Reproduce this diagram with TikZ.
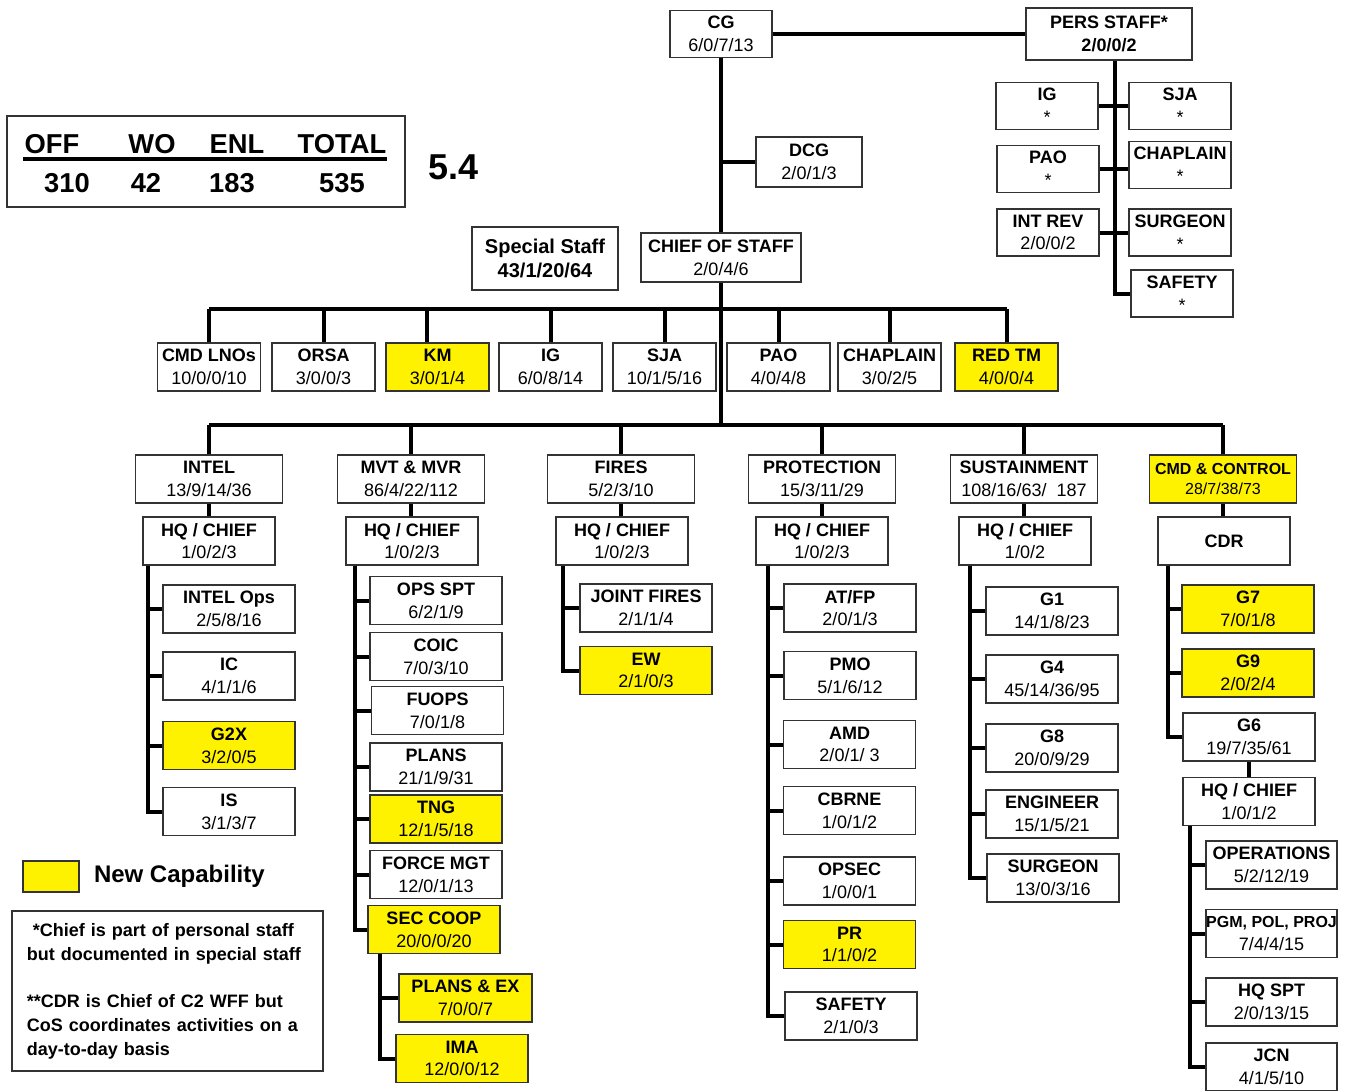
\documentclass[tikz,border=0pt]{standalone}
\usepackage{fontspec}
\setmainfont{Liberation Sans}
\usepackage{xcolor}
\usepackage{tikz}
\usetikzlibrary{positioning}

\newcommand{\orgtxt}[2]{\textbf{#1}\\#2}

\begin{document}
\begin{tikzpicture}[
  x=0.75pt, y=-0.75pt,
  unit/.style={rectangle, draw=black!80, line width=1.1pt, fill=white,
               minimum width=99pt, minimum height=36pt, align=center,
               inner sep=0pt, font=\fontsize{13.5}{17}\selectfont},
  newunit/.style={unit, fill=yellow},
  ssunit/.style={unit, minimum width=77pt},
  wfunit/.style={unit, minimum width=110pt},
  psunit/.style={unit, minimum width=76.5pt, minimum height=35.25pt},
  tallyhd/.style={font=\fontsize{20.5}{24}\selectfont\bfseries, inner sep=0pt, anchor=base},
  link/.style={line width=3pt}
]
\useasboundingbox (0,0) rectangle (1348,1090);

% personnel totals
\node[draw=black!80, line width=1.1pt, minimum width=298.5pt, minimum height=68.25pt, inner sep=0pt] (tally) at (206,161.5) {};
\node[tallyhd] (hoff) at (52,153) {OFF};
\node[tallyhd] (hwo) at (152,153) {WO};
\node[tallyhd] (henl) at (237,153) {ENL};
\node[tallyhd] (htot) at (342,153) {TOTAL};
\draw[line width=3pt] (23,159) -- (387,159);
\node[tallyhd] (noff) at (67,192) {310};
\node[tallyhd] (nwo) at (146,192) {42};
\node[tallyhd] (nenl) at (232,192) {183};
\node[tallyhd] (ntot) at (342,192) {535};
\node[right=17pt of tally, yshift=-4pt, inner sep=0pt, font=\fontsize{27}{30}\selectfont\bfseries] (ver) {5.4};

% command group
\node[unit, minimum width=76.5pt, minimum height=35.25pt] (cg) at (721,34) {\orgtxt{CG}{6/0/7/13}};
\node[unit, minimum width=124.5pt, minimum height=39pt, font=\fontsize{13.5}{17}\selectfont\bfseries] (pers) at (1109,34) {PERS STAFF*\\2/0/0/2};
\node[unit, minimum width=79.5pt, minimum height=37.5pt] (dcg) at (809,162) {\orgtxt{DCG}{2/0/1/3}};
\node[unit, minimum width=120pt, minimum height=36.75pt] (cos) at (721,257.5) {\orgtxt{CHIEF OF STAFF}{2/0/4/6}};
\node[unit, minimum width=109.5pt, minimum height=47.25pt, font=\fontsize{15}{18}\selectfont\bfseries] (spstaff) at (545,258.5) {Special Staff\\43/1/20/64};

% personal staff
\node[psunit] (pig) at (1047,106) {\orgtxt{IG}{*}};
\node[psunit] (psja) at (1180,106) {\orgtxt{SJA}{*}};
\node[psunit] (ppao) at (1048,169) {\orgtxt{PAO}{*}};
\node[psunit] (pchap) at (1180,165) {\orgtxt{CHAPLAIN}{*}};
\node[psunit] (pintrev) at (1048,232.5) {\orgtxt{INT REV}{2/0/0/2}};
\node[psunit] (psurg) at (1180,232.5) {\orgtxt{SURGEON}{*}};
\node[psunit] (pssafety) at (1182,293.5) {\orgtxt{SAFETY}{*}};

% special staff row
\node[ssunit] (cmdlno) at (209,367) {\orgtxt{CMD LNOs}{10/0/0/10}};
\node[ssunit] (orsa) at (323.5,367) {\orgtxt{ORSA}{3/0/0/3}};
\node[ssunit, fill=yellow] (km) at (437.5,367) {\orgtxt{KM}{3/0/1/4}};
\node[ssunit] (ssig) at (550.5,367) {\orgtxt{IG}{6/0/8/14}};
\node[ssunit] (sssja) at (664.5,367) {\orgtxt{SJA}{10/1/5/16}};
\node[ssunit] (sspao) at (778.5,367) {\orgtxt{PAO}{4/0/4/8}};
\node[ssunit] (sschap) at (889.5,367) {\orgtxt{CHAPLAIN}{3/0/2/5}};
\node[ssunit, fill=yellow] (redtm) at (1006.5,367) {\orgtxt{RED TM}{4/0/0/4}};

% warfighting functions
\node[wfunit] (intel) at (209,479) {\orgtxt{INTEL}{13/9/14/36}};
\node[wfunit] (mvt) at (411,479) {\orgtxt{MVT \& MVR}{86/4/22/112}};
\node[wfunit] (fires) at (621,479) {\orgtxt{FIRES}{5/2/3/10}};
\node[wfunit] (prot) at (822,479) {\orgtxt{PROTECTION}{15/3/11/29}};
\node[wfunit] (sust) at (1024,479) {\orgtxt{SUSTAINMENT}{108/16/63/\ \ 187}};
\node[wfunit, fill=yellow, font=\fontsize{12}{15.5}\selectfont] (cmdc) at (1223,479) {\orgtxt{CMD \& CONTROL}{28/7/38/73}};

\node[unit] (ihq) at (209,541) {\orgtxt{HQ / CHIEF}{1/0/2/3}};
\node[unit] (mhq) at (412,541) {\orgtxt{HQ / CHIEF}{1/0/2/3}};
\node[unit] (fhq) at (622,541) {\orgtxt{HQ / CHIEF}{1/0/2/3}};
\node[unit] (phq) at (822,541) {\orgtxt{HQ / CHIEF}{1/0/2/3}};
\node[unit] (shq) at (1025,541) {\orgtxt{HQ / CHIEF}{1/0/2}};
\node[unit, font=\fontsize{13.5}{17}\selectfont\bfseries] (cdr) at (1224,541) {CDR};

% intel
\node[unit] (iops) at (229,609) {\orgtxt{INTEL Ops}{2/5/8/16}};
\node[unit] (iic) at (229,676) {\orgtxt{IC}{4/1/1/6}};
\node[newunit] (igx) at (229,745.5) {\orgtxt{G2X}{3/2/0/5}};
\node[unit] (iis) at (229,811.5) {\orgtxt{IS}{3/1/3/7}};

% movement and maneuver
\node[unit] (mops) at (436,600.5) {\orgtxt{OPS SPT}{6/2/1/9}};
\node[unit] (mcoic) at (436,656.5) {\orgtxt{COIC}{7/0/3/10}};
\node[unit] (mfuops) at (437.5,710.5) {\orgtxt{FUOPS}{7/0/1/8}};
\node[unit] (mplans) at (436,767) {\orgtxt{PLANS}{21/1/9/31}};
\node[newunit] (mtng) at (436,819) {\orgtxt{TNG}{12/1/5/18}};
\node[unit] (mfmgt) at (436,874.5) {\orgtxt{FORCE MGT}{12/0/1/13}};
\node[newunit] (msec) at (434,929.5) {\orgtxt{SEC COOP}{20/0/0/20}};
\node[newunit, minimum width=100pt] (mpex) at (465.5,998) {\orgtxt{PLANS \& EX}{7/0/0/7}};
\node[newunit] (mima) at (462,1058.5) {\orgtxt{IMA}{12/0/0/12}};

% fires
\node[unit] (fjf) at (646,608) {\orgtxt{JOINT FIRES}{2/1/1/4}};
\node[newunit] (few) at (646,670.5) {\orgtxt{EW}{2/1/0/3}};

% protection
\node[unit] (patfp) at (850,608) {\orgtxt{AT/FP}{2/0/1/3}};
\node[unit] (ppmo) at (850,675.5) {\orgtxt{PMO}{5/1/6/12}};
\node[unit] (pamd) at (849.5,744.5) {\orgtxt{AMD}{2/0/1/ 3}};
\node[unit] (pcbrne) at (849.5,810.5) {\orgtxt{CBRNE}{1/0/1/2}};
\node[unit] (popsec) at (849.5,881) {\orgtxt{OPSEC}{1/0/0/1}};
\node[newunit] (ppr) at (849.5,944.5) {\orgtxt{PR}{1/1/0/2}};
\node[unit] (psafe) at (851,1016) {\orgtxt{SAFETY}{2/1/0/3}};

% sustainment
\node[unit] (sg1) at (1052,611) {\orgtxt{G1}{14/1/8/23}};
\node[unit] (sg4) at (1052,679) {\orgtxt{G4}{45/14/36/95}};
\node[unit] (sg8) at (1052,748) {\orgtxt{G8}{20/0/9/29}};
\node[unit] (seng) at (1052,814) {\orgtxt{ENGINEER}{15/1/5/21}};
\node[unit] (ssurg) at (1053,878) {\orgtxt{SURGEON}{13/0/3/16}};

% command and control
\node[newunit] (cg7) at (1248,609) {\orgtxt{G7}{7/0/1/8}};
\node[newunit] (cg9) at (1248,673) {\orgtxt{G9}{2/0/2/4}};
\node[unit] (cg6) at (1249,737) {\orgtxt{G6}{19/7/35/61}};
\node[unit] (g6hq) at (1249,801.5) {\orgtxt{HQ / CHIEF}{1/0/1/2}};
\node[unit, minimum width=98.25pt] (gops) at (1271.5,865) {\orgtxt{OPERATIONS}{5/2/12/19}};
\node[unit, minimum width=98.25pt] (gpgm) at (1271.5,933.5) {{\fontsize{12}{17}\selectfont\bfseries PGM, POL, PROJ}\\7/4/4/15};
\node[unit, minimum width=98.25pt] (ghqspt) at (1271.5,1002) {\orgtxt{HQ SPT}{2/0/13/15}};
\node[unit, minimum width=98.25pt] (gjcn) at (1271.5,1067) {\orgtxt{JCN}{4/1/5/10}};

% legend and notes
\node[draw=black!80, line width=1.1pt, fill=yellow, minimum width=42pt, minimum height=23.25pt, inner sep=0pt] (newcap) at (51,876.5) {};
\node[right=10.5pt of newcap, inner sep=0pt, font=\fontsize{18}{21}\selectfont\bfseries] (newcaptxt) {New Capability};
\node[draw=black!80, line width=1.1pt, minimum width=233.25pt, minimum height=120pt, text width=211pt,
      inner xsep=11pt, align=left, font=\fontsize{13.5}{17.8}\selectfont\bfseries] (notes) at (167.5,991)
  {\ *Chief is part of personal staff\\but documented in special staff\\[17.8pt]**CDR is Chief of C2 WFF but\\CoS coordinates activities on a\\day-to-day basis};

% command lines
\coordinate (sbus) at (721,309);
\coordinate (fbus) at (721,425);
\draw[link] (cg) -- (cos);
\draw[link] (cg) -- (pers);
\draw[link] (cg.south |- dcg.west) -- (dcg.west);
\draw[link] ([xshift=4.5pt]pers.south) |- (pssafety);
\draw[link] (pig) -- (psja);
\draw[link] (ppao) -- (ppao -| pchap.west);
\draw[link] (pintrev) -- (psurg);

\draw[link] (cos) -- (fbus);
\draw[link] (cmdlno |- sbus) -- (redtm |- sbus);
\draw[link] (cmdlno) -- (cmdlno |- sbus);
\draw[link] (orsa) -- (orsa |- sbus);
\draw[link] ([xshift=-8pt]km.north) -- ([xshift=-8pt]km.north |- sbus);
\draw[link] (ssig) -- (ssig |- sbus);
\draw[link] (sssja) -- (sssja |- sbus);
\draw[link] (sspao) -- (sspao |- sbus);
\draw[link] (sschap) -- (sschap |- sbus);
\draw[link] (redtm) -- (redtm |- sbus);

\draw[link] (intel |- fbus) -- (cmdc |- fbus);
\draw[link] (intel) -- (intel |- fbus);
\draw[link] (mvt) -- (mvt |- fbus);
\draw[link] (fires) -- (fires |- fbus);
\draw[link] (prot) -- (prot |- fbus);
\draw[link] (sust) -- (sust |- fbus);
\draw[link] (cmdc) -- (cmdc |- fbus);

\draw[link] (intel) -- (intel |- ihq.north);
\draw[link] (mvt) -- (mvt |- mhq.north);
\draw[link] (fires) -- (fires |- fhq.north);
\draw[link] (prot) -- (prot |- phq.north);
\draw[link] (sust) -- (sust |- shq.north);
\draw[link] (cmdc) -- (cmdc |- cdr.north);

\draw[link] ([xshift=4pt]ihq.south west) |- (iops);
\draw[link] ([xshift=4pt]ihq.south west) |- (iic);
\draw[link] ([xshift=4pt]ihq.south west) |- (igx);
\draw[link] ([xshift=4pt]ihq.south west) |- (iis);

\draw[link] ([xshift=7pt]mhq.south west) |- (mops);
\draw[link] ([xshift=7pt]mhq.south west) |- (mcoic);
\draw[link] ([xshift=7pt]mhq.south west) |- (mfuops);
\draw[link] ([xshift=7pt]mhq.south west) |- (mplans);
\draw[link] ([xshift=7pt]mhq.south west) |- (mtng);
\draw[link] ([xshift=7pt]mhq.south west) |- (mfmgt);
\draw[link] ([xshift=7pt]mhq.south west) |- (msec);
\draw[link] ([xshift=9.75pt]msec.south west) |- (mpex);
\draw[link] ([xshift=9.75pt]msec.south west) |- (mima);

\draw[link] ([xshift=6pt]fhq.south west) |- (fjf);
\draw[link] ([xshift=6pt]fhq.south west) |- (few);

\draw[link] ([xshift=9.4pt]phq.south west) |- (patfp);
\draw[link] ([xshift=9.4pt]phq.south west) |- (ppmo);
\draw[link] ([xshift=9.4pt]phq.south west) |- (pamd);
\draw[link] ([xshift=9.4pt]phq.south west) |- (pcbrne);
\draw[link] ([xshift=9.4pt]phq.south west) |- (popsec);
\draw[link] ([xshift=9.4pt]phq.south west) |- (ppr);
\draw[link] ([xshift=9.4pt]phq.south west) |- (psafe);

\draw[link] ([xshift=9pt]shq.south west) |- (sg1);
\draw[link] ([xshift=9pt]shq.south west) |- (sg4);
\draw[link] ([xshift=9pt]shq.south west) |- (sg8);
\draw[link] ([xshift=9pt]shq.south west) |- (seng);
\draw[link] ([xshift=9pt]shq.south west) |- (ssurg);

\draw[link] ([xshift=8.25pt]cdr.south west) |- (cg7);
\draw[link] ([xshift=8.25pt]cdr.south west) |- (cg9);
\draw[link] ([xshift=8.25pt]cdr.south west) |- (cg6);
\draw[link] (cg6) -- (g6hq);
\draw[link] ([xshift=6pt]g6hq.south west) |- (gops);
\draw[link] ([xshift=6pt]g6hq.south west) |- (gpgm);
\draw[link] ([xshift=6pt]g6hq.south west) |- (ghqspt);
\draw[link] ([xshift=6pt]g6hq.south west) |- (gjcn);
\end{tikzpicture}
\end{document}
